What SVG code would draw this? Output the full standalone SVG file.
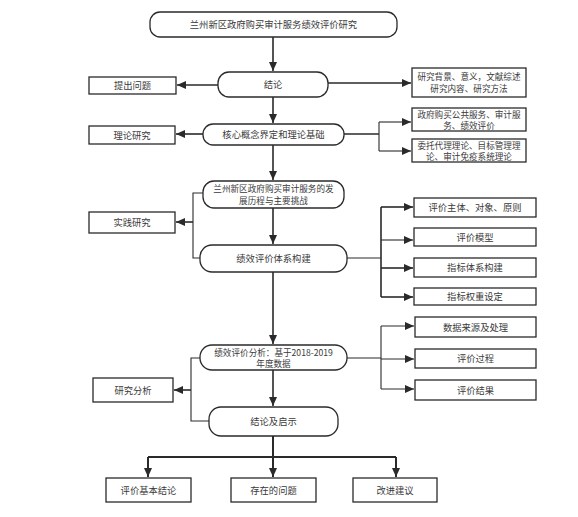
<svg xmlns="http://www.w3.org/2000/svg" width="578" height="517" viewBox="0 0 578 517">
<style>
.n rect{fill:#fff;stroke:#2a2a2a;stroke-width:1.3}
.n text{font-family:"Noto Sans CJK SC","Noto Sans",sans-serif;font-size:9.3px;fill:#3a3a3a;text-anchor:middle}
.n text.s{font-size:8.6px}
.c path{fill:none;stroke:#2a2a2a;stroke-width:1.6}
.c .t{stroke-width:1.1}
</style>
<defs>
<marker id="a" markerUnits="userSpaceOnUse" markerWidth="10" markerHeight="8" refX="9" refY="4" orient="auto">
<path d="M0,0 L9,4 L0,8 Z" fill="#2a2a2a"/>
</marker>
</defs>
<rect width="578" height="517" fill="#fff"/>
<g class="c">
<path d="M273,37 V71" marker-end="url(#a)"/>
<path d="M218,85 H177" marker-end="url(#a)"/>
<path d="M328,83 H411" marker-end="url(#a)"/>
<path d="M273,97 V123" marker-end="url(#a)"/>
<path d="M203,134 H176" marker-end="url(#a)"/>
<path d="M344,134 H379"/>
<path class="t" d="M379,122 V151"/>
<path class="t" d="M379,122 H411" marker-end="url(#a)"/>
<path class="t" d="M379,151 H411" marker-end="url(#a)"/>
<path d="M273,145 V180" marker-end="url(#a)"/>
<path class="t" d="M203,193 H193 V258 H200"/>
<path d="M193,222 H176" marker-end="url(#a)"/>
<path d="M273,208 V244" marker-end="url(#a)"/>
<path class="t" d="M347,258 H381"/>
<path d="M381,207 V297"/>
<path d="M381,207 H413" marker-end="url(#a)"/>
<path class="t" d="M381,240 H413" marker-end="url(#a)"/>
<path d="M381,268 H413" marker-end="url(#a)"/>
<path d="M381,297 H413" marker-end="url(#a)"/>
<path d="M273,272 V344" marker-end="url(#a)"/>
<path class="t" d="M347,358 H381"/>
<path class="t" d="M381,326 V389"/>
<path class="t" d="M381,326 H414" marker-end="url(#a)"/>
<path class="t" d="M381,359 H414" marker-end="url(#a)"/>
<path class="t" d="M381,389 H414" marker-end="url(#a)"/>
<path class="t" d="M200,358 H191 V421 H209"/>
<path d="M191,390 H174" marker-end="url(#a)"/>
<path d="M273,370 V406" marker-end="url(#a)"/>
<path d="M273,436 V457" style="stroke-width:2"/>
<path d="M148,457 H396" style="stroke-width:2"/>
<path d="M148,457 V477" style="stroke-width:2" marker-end="url(#a)"/>
<path d="M273,457 V477" style="stroke-width:2" marker-end="url(#a)"/>
<path d="M396,457 V477" style="stroke-width:2" marker-end="url(#a)"/>
</g>
<g class="n" id="title"><rect x="150" y="12" width="247" height="25" rx="10"/><text x="273.5" y="28">兰州新区政府购买审计服务绩效评价研究</text></g>
<g class="n" id="jielun"><rect x="218" y="72" width="110" height="25" rx="11"/><text x="273" y="88">结论</text></g>
<g class="n" id="tichu"><rect x="89" y="77" width="87" height="17"/><text x="132.5" y="89">提出问题</text></g>
<g class="n" id="beijing"><rect x="412" y="68" width="114" height="29"/><text class="s" x="469" y="80">研究背景、意义，文献综述</text><text class="s" x="469" y="92">研究内容、研究方法</text></g>
<g class="n" id="hexin"><rect x="203" y="124" width="141" height="21" rx="10"/><text x="273.5" y="138">核心概念界定和理论基础</text></g>
<g class="n" id="lilun"><rect x="89" y="126" width="86" height="18"/><text x="132" y="138.5">理论研究</text></g>
<g class="n" id="zhengfu"><rect x="412" y="108" width="114" height="23"/><text class="s" x="469" y="118">政府购买公共服务、审计服</text><text class="s" x="469" y="128.5">务、绩效评价</text></g>
<g class="n" id="weituo"><rect x="412" y="139" width="114" height="23"/><text class="s" x="469" y="149">委托代理理论、目标管理理</text><text class="s" x="469" y="159.5">论、审计免疫系统理论</text></g>
<g class="n" id="fazhan"><rect x="203" y="181" width="141" height="27" rx="11"/><text class="s" x="273.5" y="192">兰州新区政府购买审计服务的发</text><text class="s" x="273.5" y="203.5">展历程与主要挑战</text></g>
<g class="n" id="shijian"><rect x="89" y="212" width="86" height="21"/><text x="132" y="226">实践研究</text></g>
<g class="n" id="tixi"><rect x="200" y="245" width="147" height="27" rx="12"/><text x="273.5" y="262">绩效评价体系构建</text></g>
<g class="n" id="zhuti"><rect x="414" y="198" width="122" height="19"/><text x="475" y="211">评价主体、对象、原则</text></g>
<g class="n" id="moxing"><rect x="414" y="228" width="122" height="18"/><text x="475" y="240.5">评价模型</text></g>
<g class="n" id="zhibiao"><rect x="414" y="258" width="122" height="19"/><text x="475" y="271">指标体系构建</text></g>
<g class="n" id="quanzhong"><rect x="414" y="288" width="122" height="17"/><text x="475" y="300">指标权重设定</text></g>
<g class="n" id="fenxi"><rect x="200" y="345" width="147" height="25" rx="12"/><text class="s" x="273.5" y="356">绩效评价分析：基于2018-2019</text><text class="s" x="273.5" y="367">年度数据</text></g>
<g class="n" id="shuju"><rect x="415" y="317" width="121" height="20"/><text x="475.5" y="330.5">数据来源及处理</text></g>
<g class="n" id="guocheng"><rect x="415" y="349" width="121" height="19"/><text x="475.5" y="362">评价过程</text></g>
<g class="n" id="jieguo"><rect x="415" y="380" width="121" height="20"/><text x="475.5" y="393.5">评价结果</text></g>
<g class="n" id="yanjiu"><rect x="93" y="378" width="80" height="24"/><text x="133" y="393.5">研究分析</text></g>
<g class="n" id="qishi"><rect x="209" y="407" width="129" height="29" rx="12"/><text x="273.5" y="424.5">结论及启示</text></g>
<g class="n" id="jiben"><rect x="106" y="478" width="85" height="24"/><text x="148.5" y="493.5">评价基本结论</text></g>
<g class="n" id="wenti"><rect x="231" y="478" width="85" height="24"/><text x="273.5" y="493.5">存在的问题</text></g>
<g class="n" id="jianyi"><rect x="353" y="478" width="84" height="24"/><text x="395" y="493.5">改进建议</text></g>
</svg>
